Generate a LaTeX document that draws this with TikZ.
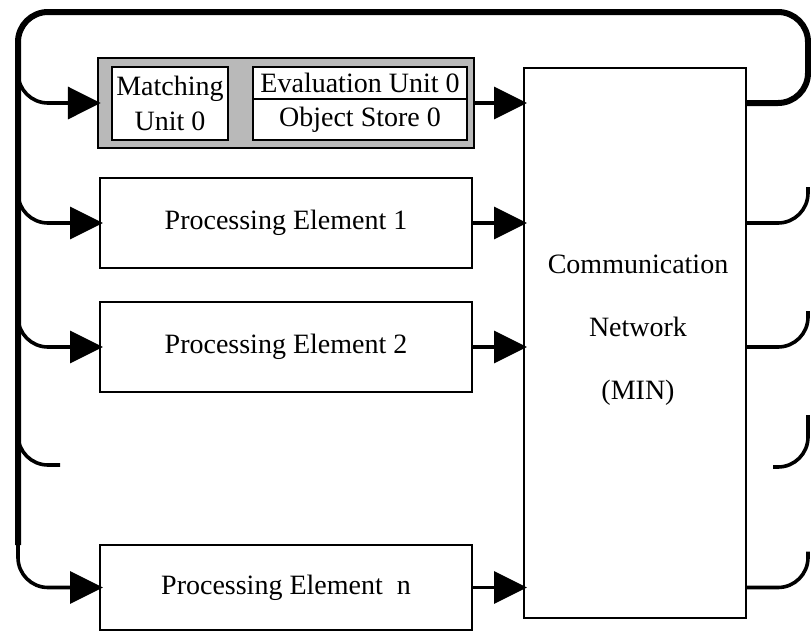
\documentclass[tikz,border=0pt]{standalone}
\usepackage{fontspec}
\setmainfont{Liberation Serif}
\usetikzlibrary{arrows.meta}

\begin{document}
\begin{tikzpicture}[
	x=1pt, y=-1pt,
	font=\fontsize{28}{35}\selectfont,
	pebox/.style={rectangle, draw, line width=2pt, fill=white, minimum width=372pt, minimum height=90pt, inner sep=0pt},
	unitbox/.style={rectangle, draw, line width=1.5pt, fill=white, inner sep=0pt, align=center},
	netbox/.style={rectangle, draw, line width=2pt, minimum width=222pt, minimum height=550pt},
	bus/.style={line width=6pt, rounded corners=30pt},
	link/.style={line width=3.6pt, rounded corners=30pt},
	feed/.style={link, -{Triangle[length=33pt,width=32pt]}, shorten >=-4pt},
	]
	\useasboundingbox (0,0) rectangle (811,635);

	%Nodes
	\node[pebox, fill=gray!55, line width=2.4pt, minimum width=376pt] (pe0) at (286,103) {};
	\node[unitbox, minimum width=116pt, minimum height=73pt] (mu0) at (170,103.5) {Matching\\Unit 0};
	\node[unitbox, minimum width=214pt, minimum height=32pt] (eu0) at (360,83) {Evaluation Unit 0};
	\node[unitbox, minimum width=214pt, minimum height=41pt] (os0) at (360,119.5) {Object Store 0};
	\node[pebox]                         (pe1) at (286,223)   {Processing Element 1\hspace{12pt}};
	\node[pebox]                         (pe2) at (286,347)   {Processing Element 2\hspace{12pt}};
	\node[pebox, minimum height=85pt]    (pen) at (286,587.5) {Processing Element\ \ n\hspace{36pt}};
	\node[netbox]                        (cn)  at (635,343)   {};
	\node[align=center, font=\fontsize{28}{63}\selectfont] (cnlabel) at (638,330) {Communication\\Network\\(MIN)};

	\coordinate (tl)    at (18,12);
	\coordinate (tr)    at (808,12);
	\coordinate (bl)    at (18,545);
	\coordinate (lfree) at (60,465);
	\coordinate (rfree) at (773,467);

	%Lines
	\draw[bus] (cn.east |- pe0.east) -| (tr) -| (bl);
	\foreach \pe in {pe0,pe1,pe2}
		\draw[feed] ([yshift=30pt]tl |- \pe.west) |- (\pe.west);
	\draw[feed] (bl) |- (pen.west);
	\draw[link] ([yshift=28pt]tl |- lfree) |- (lfree);
	\foreach \pe in {pe0,pe1,pe2,pen}
		\draw[feed] (\pe.east) -- (cn.west |- \pe.east);
	\foreach \pe in {pe1,pe2,pen}
		\draw[link] (cn.east |- \pe.east) -| ([yshift=36pt]tr |- \pe.east);
	\draw[link] (rfree) -| ([yshift=52pt]tr |- rfree);
\end{tikzpicture}
\end{document}
